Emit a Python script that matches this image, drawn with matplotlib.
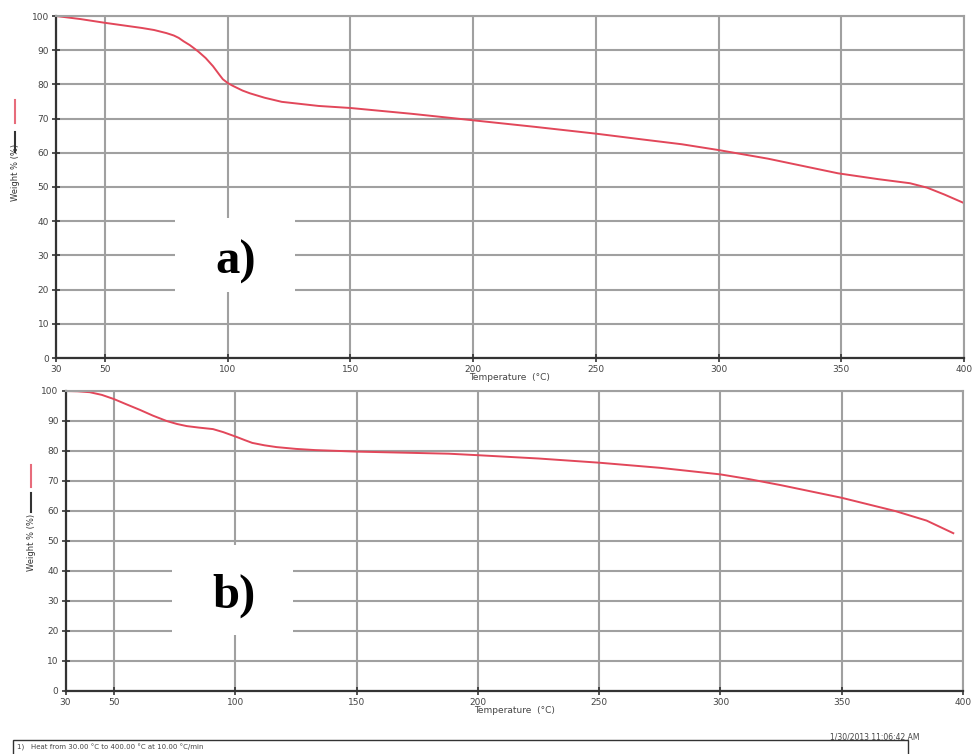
import matplotlib
matplotlib.use("Agg")
import numpy as np
from matplotlib import pyplot as plt
from matplotlib.lines import Line2D
from matplotlib.patches import Rectangle

# TGA curves, sample a) and sample b)
temp_a = [30, 40, 50, 60, 65, 70, 75, 78, 80, 82, 84.5, 86, 88, 91, 94, 96.7,
          98, 100, 102, 104, 106, 109, 115, 122, 137, 150, 175, 200, 225, 250,
          269, 285, 300, 320, 348.7, 365, 378, 385, 392, 400]
weight_a = [100, 99.1, 98.0, 97.0, 96.5, 95.9, 95.0, 94.3, 93.6, 92.6, 91.5,
            90.7, 89.6, 87.7, 85.3, 82.7, 81.5, 80.4, 79.6, 78.9, 78.2, 77.4,
            76.1, 74.9, 73.7, 73.1, 71.4, 69.5, 67.6, 65.6, 63.9, 62.5, 60.8,
            58.3, 54.0, 52.3, 51.1, 49.8, 47.8, 45.3]

temp_b = [30, 35, 40, 45, 50, 55, 60.7, 66, 71.7, 76, 80, 85, 90.8, 95, 100.5,
          104, 107, 112, 117, 125, 133, 150, 188, 200, 225, 250, 275, 300, 312,
          325, 350, 372, 385, 396]
weight_b = [100, 99.9, 99.6, 98.7, 97.3, 95.6, 93.7, 91.8, 90.0, 89.0, 88.3,
            87.8, 87.3, 86.3, 84.7, 83.6, 82.7, 81.9, 81.3, 80.7, 80.3, 79.8,
            79.1, 78.6, 77.5, 76.1, 74.4, 72.2, 70.6, 68.6, 64.4, 60.0, 56.8,
            52.6]

x_ticks = [30, 50, 100, 150, 200, 250, 300, 350, 400]
y_ticks = [0, 10, 20, 30, 40, 50, 60, 70, 80, 90, 100]

W, H = 974, 754
RED = "#e2475a"
GRID = "#a0a0a0"
TXT = "#444444"


def fx(px):
    return px / W


def fy(py):
    return 1 - py / H


def make_axes(fig, left, right, top, bottom):
    ax = fig.add_axes([fx(left), fy(bottom), fx(right - left), fy(top) - fy(bottom)])
    ax.set_xlim(30, 400)
    ax.set_ylim(0, 100)
    ax.set_xticks(x_ticks)
    ax.set_yticks(y_ticks)
    ax.grid(True, color=GRID, lw=1.5)
    ax.set_axisbelow(True)
    for s in ("top", "right"):
        ax.spines[s].set_color(GRID)
        ax.spines[s].set_linewidth(1.5)
    for s in ("left", "bottom"):
        ax.spines[s].set_color("#333333")
        ax.spines[s].set_linewidth(1.6)
    ax.tick_params(direction="inout", length=6, width=1.2, color="#333333",
                   labelsize=6.5, labelcolor=TXT, pad=2)
    ax.set_xlabel("Temperature  (°C)", fontsize=6.5, color=TXT, labelpad=-1)
    return ax


def side_label(fig, x, red_span, black_span, text_mid):
    fig.add_artist(Line2D([fx(x), fx(x)], [fy(red_span[0]), fy(red_span[1])],
                          color=RED, lw=1.5, alpha=0.8))
    fig.add_artist(Line2D([fx(x), fx(x)], [fy(black_span[0]), fy(black_span[1])],
                          color="#333333", lw=1.5))
    fig.text(fx(x), fy(text_mid), "Weight % (%)", rotation=90, fontsize=6,
             color="#333333", ha="center", va="center")


def panel_tag(fig, box, text, text_xy):
    l, t, r, b = box
    fig.add_artist(Rectangle((fx(l), fy(b)), fx(r - l), fy(t) - fy(b),
                             facecolor="white", edgecolor="none", zorder=3))
    fig.text(fx(text_xy[0]), fy(text_xy[1]), text, fontsize=35, fontweight="bold",
             family="Liberation Serif", ha="center", va="center", zorder=4)


fig = plt.figure(figsize=(W / 100, H / 100), dpi=100)

ax1 = make_axes(fig, 56, 964, 16, 358)
ax1.plot(temp_a, weight_a, color=RED, lw=1.4)
side_label(fig, 15, (100, 123), (132, 152), 172)
panel_tag(fig, (175, 218, 295, 292), "a)", (236, 262))

ax2 = make_axes(fig, 65.5, 963, 391, 691)
ax2.plot(temp_b, weight_b, color=RED, lw=1.4)
side_label(fig, 31, (465, 487), (493, 512), 542)
panel_tag(fig, (172, 545, 293, 635), "b)", (234, 596))

# run info footer
fig.text(fx(920), fy(737), "1/30/2013 11:06:42 AM", fontsize=5.5, color=TXT,
         ha="right", va="center")
fig.add_artist(Rectangle((fx(13), fy(760)), fx(895), fy(740) - fy(760),
                         facecolor="none", edgecolor="#333333", lw=1.0))
fig.text(fx(17), fy(747), "1)   Heat from 30.00 °C to 400.00 °C at 10.00 °C/min",
         fontsize=5, color=TXT, ha="left", va="center")

fig.savefig("out.png", dpi=100)
